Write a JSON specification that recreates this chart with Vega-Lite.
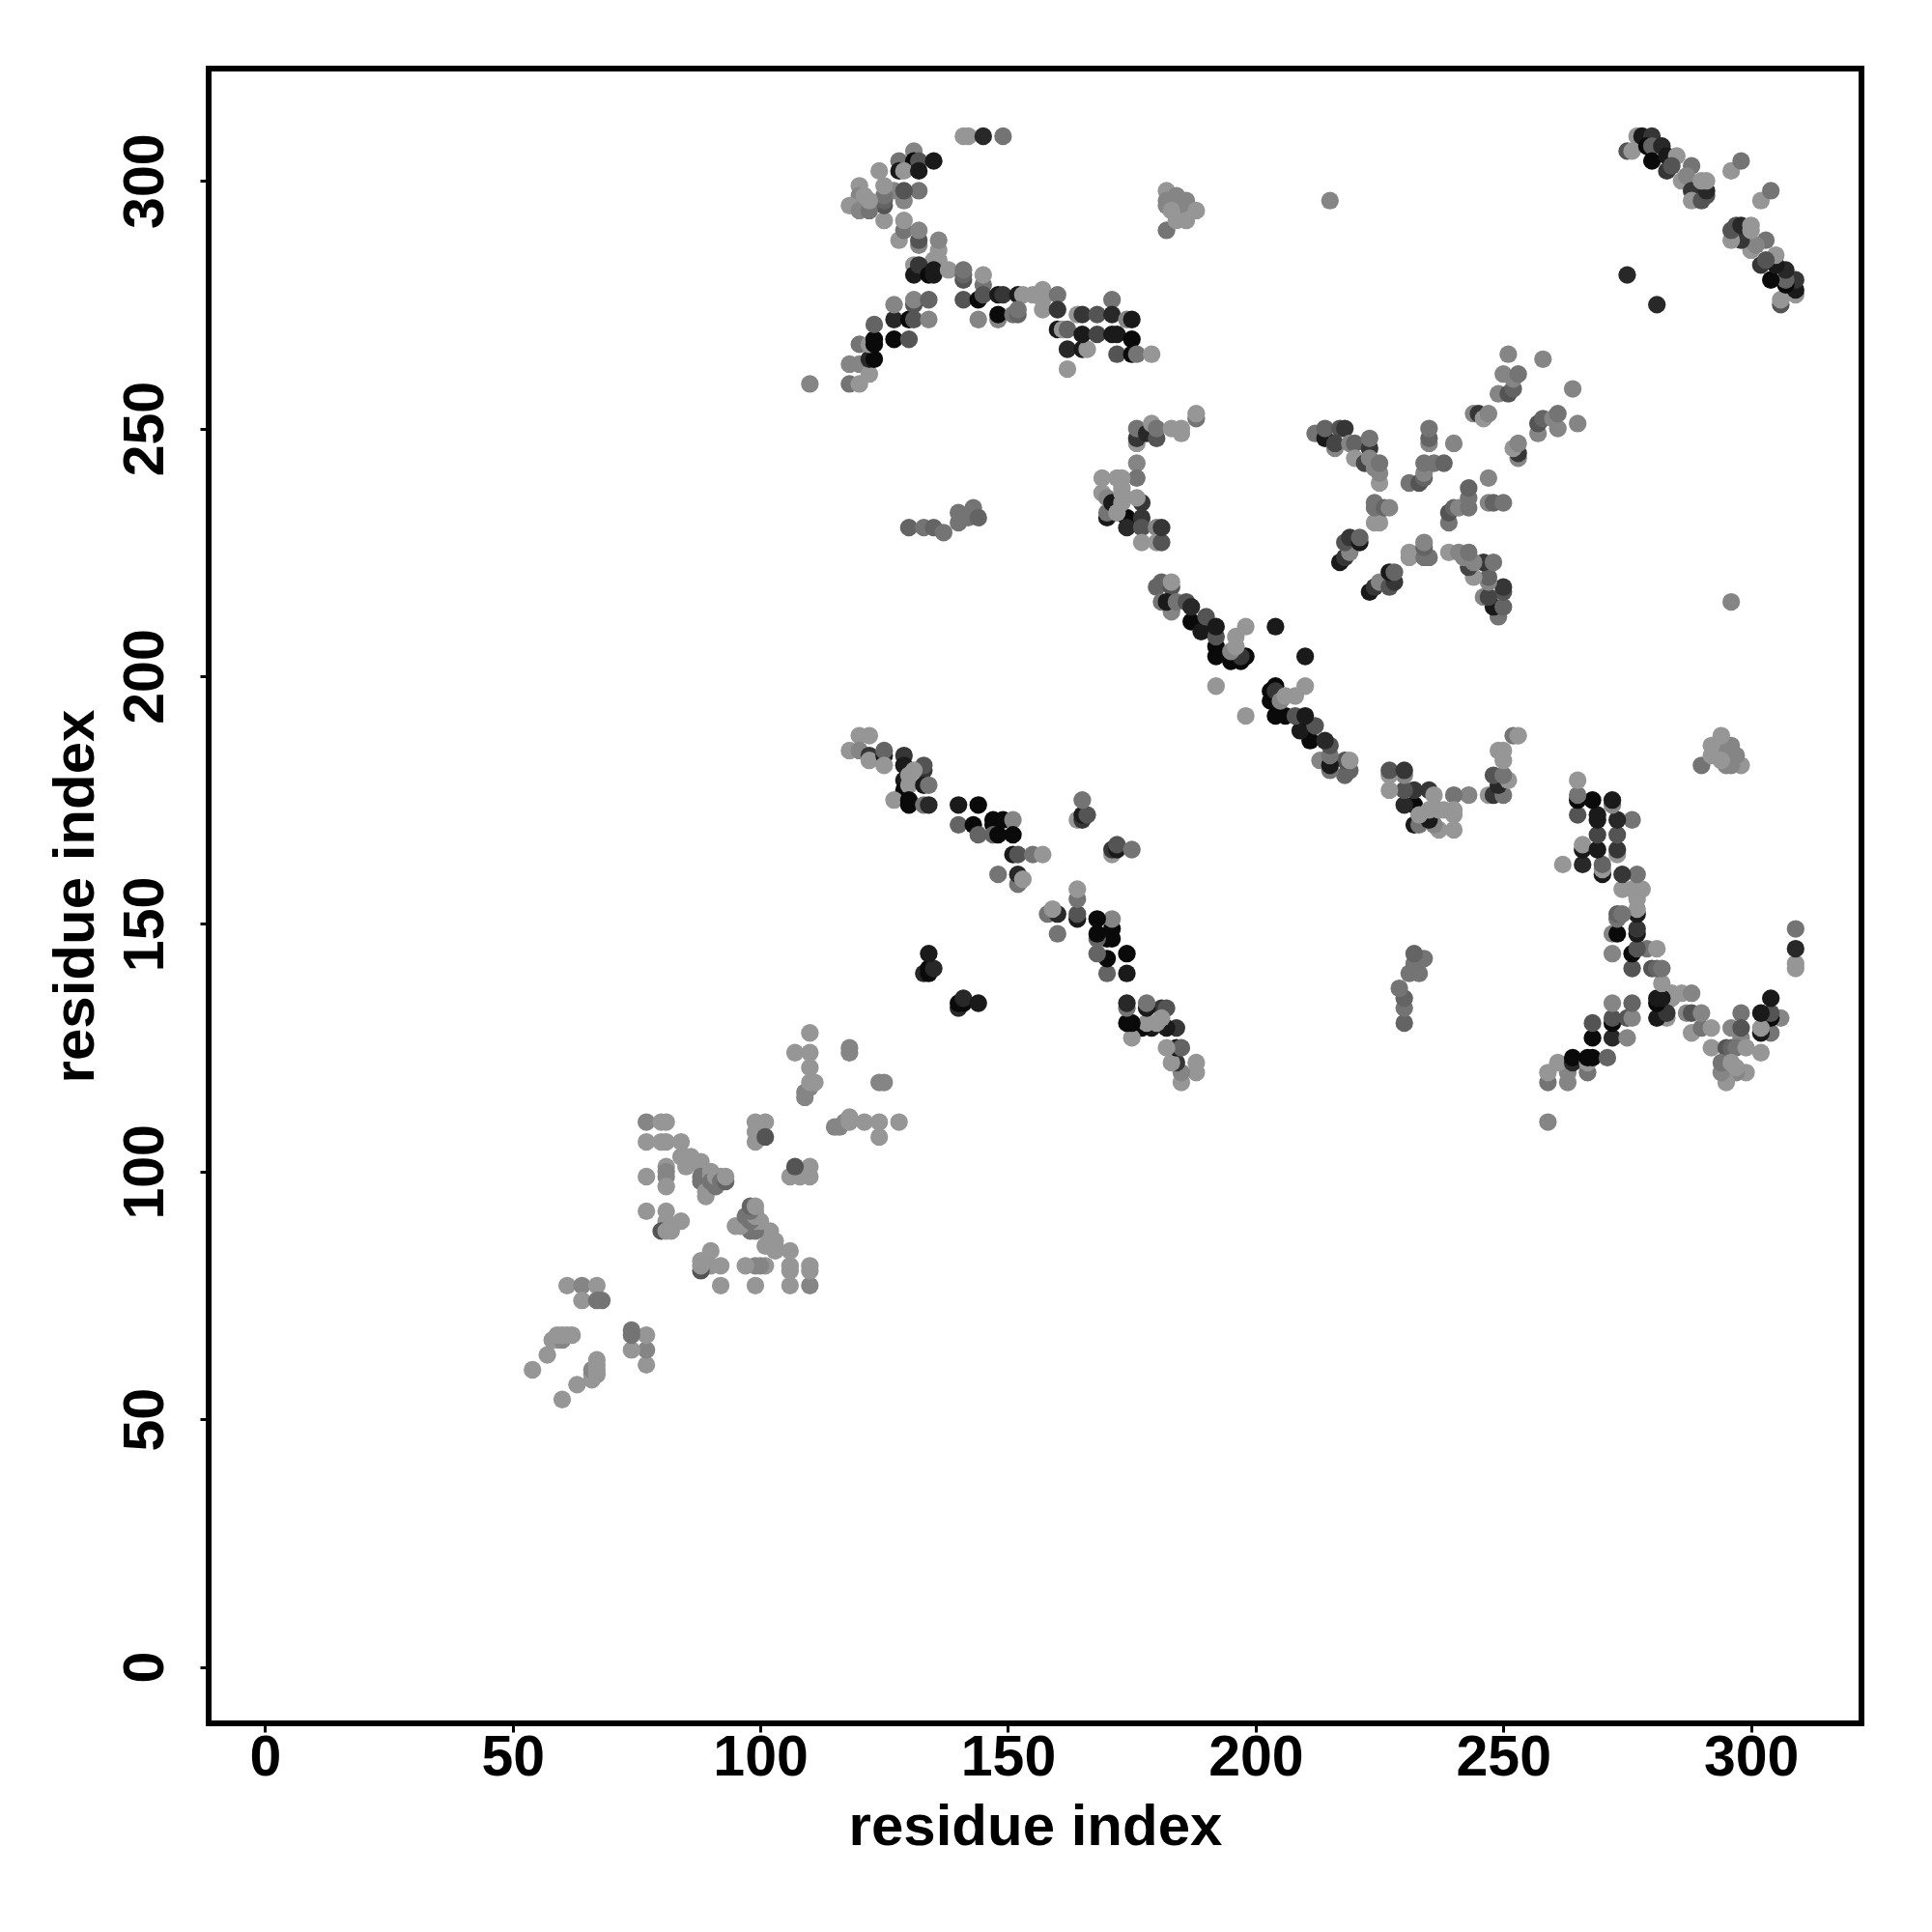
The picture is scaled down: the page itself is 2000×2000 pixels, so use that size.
{"$schema":"https://vega.github.io/schema/vega-lite/v6.json","width":1711,"height":1713,"autosize":"none","padding":{"left":216,"top":71,"right":73,"bottom":216},"background":"white","config":{"view":{"stroke":"black","strokeWidth":6,"fill":"white"}},"data":{"values":[
{"x":54,"y":60,"s":9},{"x":57,"y":63,"s":9},{"x":58,"y":66,"s":9},{"x":59,"y":66,"s":9},{"x":60,"y":66,"s":8},{"x":59,"y":67,"s":9},{"x":60,"y":67,"s":9},{"x":61,"y":67,"s":9},{"x":62,"y":67,"s":9},{"x":61,"y":77,"s":9},{"x":64,"y":77,"s":8},{"x":67,"y":77,"s":9},{"x":64,"y":74,"s":9},{"x":67,"y":74,"s":7},{"x":68,"y":74,"s":7},
{"x":77,"y":110,"s":8},{"x":80,"y":110,"s":9},{"x":81,"y":110,"s":9},{"x":77,"y":106,"s":9},{"x":80,"y":106,"s":9},{"x":81,"y":106,"s":9},{"x":84,"y":106,"s":9},{"x":81,"y":101,"s":9},{"x":81,"y":100,"s":8},{"x":81,"y":99,"s":8},{"x":77,"y":99,"s":9},{"x":81,"y":97,"s":9},{"x":77,"y":92,"s":9},{"x":81,"y":92,"s":9},{"x":81,"y":90,"s":9},{"x":84,"y":90,"s":9},{"x":80,"y":88,"s":5},{"x":81,"y":88,"s":9},{"x":82,"y":88,"s":9},{"x":84,"y":103,"s":9},{"x":85,"y":103,"s":9},{"x":86,"y":103,"s":9},{"x":85,"y":101,"s":9},{"x":86,"y":102,"s":9},{"x":88,"y":102,"s":9},{"x":88,"y":101,"s":9},{"x":88,"y":99,"s":7},{"x":88,"y":98,"s":7},{"x":89,"y":97,"s":7},{"x":89,"y":96,"s":9},{"x":89,"y":95,"s":9},{"x":90,"y":100,"s":9},{"x":90,"y":99,"s":9},{"x":90,"y":98,"s":7},{"x":91,"y":97,"s":7},{"x":91,"y":99,"s":9},{"x":92,"y":99,"s":9},{"x":92,"y":98,"s":7},{"x":93,"y":98,"s":6},{"x":93,"y":99,"s":9},{"x":99,"y":110,"s":9},{"x":101,"y":110,"s":9},{"x":99,"y":108,"s":9},{"x":99,"y":106,"s":9},{"x":101,"y":107,"s":5},{"x":107,"y":124,"s":9},{"x":110,"y":124,"s":9},{"x":110,"y":128,"s":9},{"x":110,"y":121,"s":9},{"x":109,"y":115,"s":8},{"x":109,"y":116,"s":8},{"x":110,"y":117,"s":8},{"x":110,"y":118,"s":9},{"x":111,"y":118,"s":9},{"x":118,"y":124,"s":8},{"x":118,"y":125,"s":8},{"x":124,"y":118,"s":8},{"x":125,"y":118,"s":8},
{"x":120,"y":188,"s":9},{"x":122,"y":188,"s":9},{"x":118,"y":185,"s":9},{"x":120,"y":185,"s":8},{"x":122,"y":184,"s":3},{"x":122,"y":183,"s":9},{"x":125,"y":184,"s":1},{"x":125,"y":185,"s":6},{"x":125,"y":182,"s":9},{"x":129,"y":184,"s":3},{"x":129,"y":182,"s":1},{"x":133,"y":181,"s":3},{"x":133,"y":182,"s":5},{"x":129,"y":179,"s":1},{"x":129,"y":177,"s":0},{"x":130,"y":180,"s":9},{"x":131,"y":181,"s":9},{"x":130,"y":178,"s":9},{"x":133,"y":178,"s":1},{"x":134,"y":178,"s":7},{"x":127,"y":175,"s":9},{"x":130,"y":175,"s":0},{"x":130,"y":174,"s":0},{"x":133,"y":174,"s":7},{"x":134,"y":174,"s":2},
{"x":140,"y":174,"s":1},{"x":144,"y":174,"s":0},{"x":140,"y":170,"s":6},{"x":143,"y":170,"s":0},{"x":144,"y":168,"s":6},{"x":147,"y":171,"s":0},{"x":147,"y":170,"s":0},{"x":149,"y":171,"s":0},{"x":147,"y":168,"s":6},{"x":148,"y":168,"s":0},{"x":151,"y":171,"s":8},{"x":151,"y":168,"s":0},{"x":151,"y":164,"s":1},{"x":152,"y":164,"s":5},{"x":155,"y":164,"s":7},{"x":157,"y":164,"s":9},{"x":148,"y":160,"s":7},{"x":152,"y":158,"s":7},{"x":152,"y":160,"s":2},{"x":153,"y":159,"s":9},{"x":164,"y":171,"s":9},{"x":165,"y":171,"s":3},{"x":165,"y":172,"s":1},{"x":166,"y":172,"s":5},{"x":165,"y":175,"s":7},{"x":133,"y":140,"s":2},{"x":134,"y":140,"s":0},{"x":134,"y":141,"s":0},{"x":135,"y":141,"s":2},{"x":134,"y":144,"s":1},
{"x":110,"y":259,"s":8},{"x":118,"y":259,"s":7},{"x":120,"y":259,"s":9},{"x":118,"y":263,"s":8},{"x":120,"y":263,"s":8},{"x":120,"y":267,"s":7},{"x":122,"y":261,"s":9},{"x":122,"y":264,"s":2},{"x":123,"y":264,"s":0},{"x":122,"y":267,"s":9},{"x":123,"y":267,"s":0},{"x":123,"y":268,"s":0},{"x":123,"y":271,"s":6},{"x":127,"y":268,"s":0},{"x":130,"y":268,"s":5},{"x":127,"y":272,"s":2},{"x":130,"y":272,"s":0},{"x":131,"y":272,"s":5},{"x":134,"y":272,"s":8},{"x":127,"y":275,"s":8},{"x":131,"y":275,"s":5},{"x":131,"y":276,"s":8},{"x":134,"y":276,"s":6},
{"x":131,"y":306,"s":8},{"x":128,"y":304,"s":7},{"x":131,"y":304,"s":0},{"x":132,"y":304,"s":5},{"x":135,"y":304,"s":1},{"x":128,"y":302,"s":1},{"x":129,"y":302,"s":9},{"x":132,"y":302,"s":1},{"x":124,"y":302,"s":9},{"x":127,"y":298,"s":8},{"x":132,"y":298,"s":7},{"x":129,"y":296,"s":8},{"x":129,"y":298,"s":5},{"x":120,"y":299,"s":9},{"x":120,"y":297,"s":8},{"x":125,"y":292,"s":9},{"x":125,"y":295,"s":5},{"x":125,"y":296,"s":6},{"x":125,"y":297,"s":7},{"x":125,"y":299,"s":9},{"x":118,"y":295,"s":9},{"x":120,"y":294,"s":8},{"x":122,"y":294,"s":7},{"x":122,"y":296,"s":9},{"x":121,"y":297,"s":9},
{"x":128,"y":288,"s":9},{"x":129,"y":290,"s":7},{"x":129,"y":292,"s":9},{"x":132,"y":287,"s":8},{"x":132,"y":288,"s":5},{"x":132,"y":290,"s":8},{"x":136,"y":284,"s":9},{"x":136,"y":286,"s":9},{"x":136,"y":288,"s":8},{"x":135,"y":284,"s":9},{"x":131,"y":283,"s":9},{"x":131,"y":281,"s":1},{"x":132,"y":283,"s":3},{"x":134,"y":281,"s":0},{"x":135,"y":281,"s":1},{"x":135,"y":282,"s":1},{"x":138,"y":282,"s":9},{"x":141,"y":280,"s":5},{"x":141,"y":281,"s":6},{"x":141,"y":282,"s":7},{"x":145,"y":279,"s":7},{"x":145,"y":281,"s":9},
{"x":141,"y":276,"s":5},{"x":144,"y":276,"s":0},{"x":145,"y":277,"s":5},{"x":148,"y":277,"s":1},{"x":149,"y":277,"s":3},{"x":152,"y":277,"s":1},{"x":153,"y":277,"s":9},{"x":155,"y":277,"s":9},{"x":157,"y":278,"s":9},{"x":157,"y":276,"s":9},{"x":157,"y":274,"s":9},{"x":160,"y":277,"s":7},{"x":160,"y":274,"s":3},{"x":144,"y":272,"s":8},{"x":148,"y":272,"s":8},{"x":148,"y":273,"s":0},{"x":151,"y":273,"s":7},{"x":152,"y":273,"s":6},{"x":152,"y":274,"s":7},{"x":162,"y":266,"s":2},{"x":165,"y":266,"s":1},{"x":166,"y":266,"s":9},{"x":162,"y":262,"s":9},{"x":160,"y":270,"s":1},{"x":161,"y":270,"s":9},{"x":162,"y":270,"s":6},{"x":164,"y":273,"s":9},{"x":165,"y":273,"s":3},{"x":168,"y":273,"s":5},{"x":171,"y":276,"s":7},{"x":171,"y":273,"s":2},{"x":165,"y":269,"s":1},{"x":168,"y":269,"s":4},{"x":171,"y":269,"s":1},{"x":172,"y":269,"s":1},{"x":174,"y":272,"s":8},{"x":175,"y":272,"s":1},{"x":175,"y":268,"s":0},{"x":172,"y":265,"s":5},{"x":175,"y":265,"s":0},{"x":176,"y":265,"s":7},{"x":179,"y":265,"s":9},
{"x":141,"y":309,"s":9},{"x":142,"y":309,"s":9},{"x":145,"y":309,"s":2},{"x":149,"y":309,"s":7},
{"x":182,"y":298,"s":9},{"x":182,"y":290,"s":7},{"x":182,"y":296,"s":8},{"x":182,"y":295,"s":8},{"x":184,"y":297,"s":8},{"x":186,"y":296,"s":8},{"x":185,"y":295,"s":8},{"x":183,"y":294,"s":9},{"x":184,"y":292,"s":9},{"x":186,"y":292,"s":9},{"x":188,"y":294,"s":9},
{"x":188,"y":252,"s":7},{"x":188,"y":253,"s":9},{"x":176,"y":247,"s":9},{"x":176,"y":248,"s":3},{"x":176,"y":250,"s":7},{"x":178,"y":249,"s":2},{"x":179,"y":251,"s":9},{"x":180,"y":248,"s":5},{"x":180,"y":250,"s":7},{"x":183,"y":250,"s":9},{"x":185,"y":249,"s":9},{"x":185,"y":250,"s":9},{"x":176,"y":243,"s":8},{"x":176,"y":240,"s":7},{"x":169,"y":240,"s":9},{"x":172,"y":240,"s":9},{"x":173,"y":240,"s":9},{"x":170,"y":232,"s":1},{"x":170,"y":233,"s":7},{"x":169,"y":237,"s":9},{"x":170,"y":236,"s":8},{"x":171,"y":235,"s":1},{"x":174,"y":232,"s":0},{"x":172,"y":233,"s":9},{"x":173,"y":238,"s":9},{"x":173,"y":237,"s":9},{"x":173,"y":235,"s":9},{"x":177,"y":232,"s":3},{"x":177,"y":235,"s":3},{"x":176,"y":236,"s":9},{"x":174,"y":230,"s":2},{"x":177,"y":230,"s":5},{"x":180,"y":230,"s":8},{"x":177,"y":227,"s":9},{"x":180,"y":227,"s":9},{"x":181,"y":227,"s":5},{"x":181,"y":230,"s":3},
{"x":180,"y":218,"s":6},{"x":181,"y":219,"s":6},{"x":183,"y":218,"s":5},{"x":183,"y":219,"s":9},{"x":181,"y":215,"s":7},{"x":183,"y":213,"s":8},{"x":182,"y":215,"s":1},{"x":184,"y":215,"s":7},{"x":186,"y":215,"s":5},{"x":187,"y":211,"s":0},{"x":187,"y":214,"s":2},{"x":189,"y":209,"s":1},{"x":190,"y":212,"s":5},{"x":192,"y":204,"s":0},{"x":192,"y":206,"s":0},{"x":192,"y":208,"s":5},{"x":192,"y":210,"s":1},{"x":195,"y":203,"s":0},{"x":197,"y":203,"s":0},{"x":198,"y":204,"s":0},{"x":197,"y":204,"s":3},{"x":195,"y":205,"s":8},{"x":196,"y":206,"s":9},{"x":196,"y":208,"s":9},{"x":198,"y":210,"s":9},{"x":204,"y":210,"s":1},{"x":192,"y":198,"s":9},
{"x":212,"y":249,"s":7},{"x":214,"y":248,"s":1},{"x":214,"y":250,"s":6},{"x":217,"y":250,"s":5},{"x":218,"y":250,"s":3},{"x":216,"y":246,"s":8},{"x":216,"y":247,"s":4},{"x":219,"y":247,"s":8},{"x":220,"y":247,"s":6},{"x":223,"y":246,"s":3},{"x":223,"y":248,"s":7},{"x":220,"y":244,"s":9},{"x":222,"y":243,"s":4},{"x":223,"y":244,"s":8},{"x":224,"y":242,"s":8},{"x":225,"y":239,"s":9},{"x":225,"y":241,"s":8},{"x":225,"y":243,"s":7},{"x":224,"y":231,"s":9},{"x":225,"y":231,"s":9},{"x":224,"y":234,"s":7},{"x":224,"y":235,"s":7},{"x":226,"y":234,"s":6},{"x":227,"y":234,"s":8},{"x":217,"y":223,"s":1},{"x":218,"y":224,"s":3},{"x":219,"y":225,"s":8},{"x":218,"y":227,"s":5},{"x":219,"y":228,"s":3},{"x":221,"y":227,"s":1},{"x":221,"y":228,"s":6},
{"x":235,"y":247,"s":8},{"x":235,"y":248,"s":6},{"x":235,"y":250,"s":7},{"x":240,"y":247,"s":8},{"x":231,"y":239,"s":7},{"x":233,"y":239,"s":5},{"x":234,"y":240,"s":6},{"x":234,"y":241,"s":8},{"x":234,"y":243,"s":7},{"x":236,"y":243,"s":7},{"x":238,"y":243,"s":6},{"x":244,"y":253,"s":8},{"x":245,"y":253,"s":3},{"x":246,"y":252,"s":9},{"x":247,"y":253,"s":8},{"x":249,"y":257,"s":8},{"x":251,"y":257,"s":5},{"x":252,"y":258,"s":6},{"x":252,"y":260,"s":8},{"x":250,"y":261,"s":8},{"x":253,"y":261,"s":7},{"x":251,"y":265,"s":8},{"x":258,"y":264,"s":8},
{"x":130,"y":230,"s":6},{"x":133,"y":230,"s":7},{"x":135,"y":230,"s":6},{"x":137,"y":229,"s":7},{"x":140,"y":231,"s":7},{"x":140,"y":233,"s":7},{"x":142,"y":232,"s":7},{"x":143,"y":234,"s":7},{"x":144,"y":232,"s":6},{"x":215,"y":296,"s":8},
{"x":275,"y":306,"s":5},{"x":276,"y":306,"s":9},{"x":277,"y":309,"s":9},{"x":278,"y":309,"s":1},{"x":280,"y":309,"s":3},{"x":279,"y":307,"s":0},{"x":280,"y":307,"s":6},{"x":282,"y":307,"s":2},{"x":280,"y":304,"s":0},{"x":283,"y":305,"s":1},{"x":283,"y":302,"s":3},{"x":285,"y":305,"s":9},{"x":284,"y":303,"s":5},{"x":286,"y":300,"s":9},{"x":288,"y":303,"s":7},{"x":287,"y":301,"s":8},{"x":288,"y":298,"s":3},{"x":288,"y":296,"s":9},{"x":290,"y":296,"s":5},{"x":291,"y":297,"s":5},{"x":291,"y":298,"s":2},{"x":290,"y":300,"s":9},{"x":291,"y":300,"s":9},{"x":296,"y":302,"s":9},{"x":298,"y":304,"s":7},{"x":275,"y":281,"s":2},
{"x":60,"y":54,"s":9},{"x":63,"y":57,"s":9},{"x":66,"y":58,"s":9},{"x":66,"y":59,"s":9},{"x":66,"y":60,"s":8},{"x":67,"y":59,"s":9},{"x":67,"y":60,"s":9},{"x":67,"y":61,"s":9},{"x":67,"y":62,"s":9},{"x":77,"y":61,"s":9},{"x":77,"y":64,"s":8},{"x":77,"y":67,"s":9},{"x":74,"y":64,"s":9},{"x":74,"y":67,"s":7},{"x":74,"y":68,"s":7},
{"x":110,"y":77,"s":8},{"x":110,"y":80,"s":9},{"x":110,"y":81,"s":9},{"x":106,"y":77,"s":9},{"x":106,"y":80,"s":9},{"x":106,"y":81,"s":9},{"x":106,"y":84,"s":9},{"x":101,"y":81,"s":9},{"x":100,"y":81,"s":8},{"x":99,"y":81,"s":8},{"x":99,"y":77,"s":9},{"x":97,"y":81,"s":9},{"x":92,"y":77,"s":9},{"x":92,"y":81,"s":9},{"x":90,"y":81,"s":9},{"x":90,"y":84,"s":9},{"x":88,"y":80,"s":5},{"x":88,"y":81,"s":9},{"x":88,"y":82,"s":9},{"x":103,"y":84,"s":9},{"x":103,"y":85,"s":9},{"x":103,"y":86,"s":9},{"x":101,"y":85,"s":9},{"x":102,"y":86,"s":9},{"x":102,"y":88,"s":9},{"x":101,"y":88,"s":9},{"x":99,"y":88,"s":7},{"x":98,"y":88,"s":7},{"x":97,"y":89,"s":7},{"x":96,"y":89,"s":9},{"x":95,"y":89,"s":9},{"x":100,"y":90,"s":9},{"x":99,"y":90,"s":9},{"x":98,"y":90,"s":7},{"x":97,"y":91,"s":7},{"x":99,"y":91,"s":9},{"x":99,"y":92,"s":9},{"x":98,"y":92,"s":7},{"x":98,"y":93,"s":6},{"x":99,"y":93,"s":9},{"x":110,"y":99,"s":9},{"x":110,"y":101,"s":9},{"x":108,"y":99,"s":9},{"x":106,"y":99,"s":9},{"x":107,"y":101,"s":5},{"x":124,"y":107,"s":9},{"x":124,"y":110,"s":9},{"x":128,"y":110,"s":9},{"x":121,"y":110,"s":9},{"x":115,"y":109,"s":8},{"x":116,"y":109,"s":8},{"x":117,"y":110,"s":8},{"x":118,"y":110,"s":9},{"x":118,"y":111,"s":9},
{"x":188,"y":120,"s":9},{"x":188,"y":122,"s":9},{"x":185,"y":118,"s":9},{"x":185,"y":120,"s":8},{"x":184,"y":122,"s":3},{"x":183,"y":122,"s":9},{"x":184,"y":125,"s":1},{"x":185,"y":125,"s":6},{"x":182,"y":125,"s":9},{"x":184,"y":129,"s":3},{"x":182,"y":129,"s":1},{"x":181,"y":133,"s":3},{"x":182,"y":133,"s":5},{"x":179,"y":129,"s":1},{"x":177,"y":129,"s":0},{"x":180,"y":130,"s":9},{"x":181,"y":131,"s":9},{"x":178,"y":130,"s":9},{"x":178,"y":133,"s":1},{"x":178,"y":134,"s":7},{"x":175,"y":127,"s":9},{"x":175,"y":130,"s":0},{"x":174,"y":130,"s":0},{"x":174,"y":133,"s":7},{"x":174,"y":134,"s":2},
{"x":174,"y":140,"s":1},{"x":174,"y":144,"s":0},{"x":170,"y":140,"s":6},{"x":170,"y":143,"s":0},{"x":168,"y":144,"s":6},{"x":171,"y":147,"s":0},{"x":170,"y":147,"s":0},{"x":171,"y":149,"s":0},{"x":168,"y":147,"s":6},{"x":168,"y":148,"s":0},{"x":171,"y":151,"s":8},{"x":168,"y":151,"s":0},{"x":164,"y":151,"s":1},{"x":164,"y":152,"s":5},{"x":164,"y":155,"s":7},{"x":164,"y":157,"s":9},{"x":160,"y":148,"s":7},{"x":158,"y":152,"s":7},{"x":160,"y":152,"s":2},{"x":159,"y":153,"s":9},{"x":171,"y":164,"s":9},{"x":171,"y":165,"s":3},{"x":172,"y":165,"s":1},{"x":172,"y":166,"s":5},{"x":175,"y":165,"s":7},{"x":140,"y":133,"s":2},{"x":140,"y":134,"s":0},{"x":141,"y":134,"s":0},{"x":141,"y":135,"s":2},{"x":144,"y":134,"s":1},
{"x":259,"y":110,"s":8},{"x":259,"y":118,"s":7},{"x":259,"y":120,"s":9},{"x":263,"y":118,"s":8},{"x":263,"y":120,"s":8},{"x":267,"y":120,"s":7},{"x":261,"y":122,"s":9},{"x":264,"y":122,"s":2},{"x":264,"y":123,"s":0},{"x":267,"y":122,"s":9},{"x":267,"y":123,"s":0},{"x":268,"y":123,"s":0},{"x":271,"y":123,"s":6},{"x":268,"y":127,"s":0},{"x":268,"y":130,"s":5},{"x":272,"y":127,"s":2},{"x":272,"y":130,"s":0},{"x":272,"y":131,"s":5},{"x":272,"y":134,"s":8},{"x":275,"y":127,"s":8},{"x":275,"y":131,"s":5},{"x":276,"y":131,"s":8},{"x":276,"y":134,"s":6},
{"x":306,"y":131,"s":8},{"x":304,"y":128,"s":7},{"x":304,"y":131,"s":0},{"x":304,"y":132,"s":5},{"x":304,"y":135,"s":1},{"x":302,"y":128,"s":1},{"x":302,"y":129,"s":9},{"x":302,"y":132,"s":1},{"x":302,"y":124,"s":9},{"x":298,"y":127,"s":8},{"x":298,"y":132,"s":7},{"x":296,"y":129,"s":8},{"x":298,"y":129,"s":5},{"x":299,"y":120,"s":9},{"x":297,"y":120,"s":8},{"x":292,"y":125,"s":9},{"x":295,"y":125,"s":5},{"x":296,"y":125,"s":6},{"x":297,"y":125,"s":7},{"x":299,"y":125,"s":9},{"x":295,"y":118,"s":9},{"x":294,"y":120,"s":8},{"x":294,"y":122,"s":7},{"x":296,"y":122,"s":9},{"x":297,"y":121,"s":9},
{"x":288,"y":128,"s":9},{"x":290,"y":129,"s":7},{"x":292,"y":129,"s":9},{"x":287,"y":132,"s":8},{"x":288,"y":132,"s":5},{"x":290,"y":132,"s":8},{"x":284,"y":136,"s":9},{"x":286,"y":136,"s":9},{"x":288,"y":136,"s":8},{"x":284,"y":135,"s":9},{"x":283,"y":131,"s":9},{"x":281,"y":131,"s":1},{"x":283,"y":132,"s":3},{"x":281,"y":134,"s":0},{"x":281,"y":135,"s":1},{"x":282,"y":135,"s":1},{"x":282,"y":138,"s":9},{"x":280,"y":141,"s":5},{"x":281,"y":141,"s":6},{"x":282,"y":141,"s":7},{"x":279,"y":145,"s":7},{"x":281,"y":145,"s":9},
{"x":276,"y":141,"s":5},{"x":276,"y":144,"s":0},{"x":277,"y":145,"s":5},{"x":277,"y":148,"s":1},{"x":277,"y":149,"s":3},{"x":277,"y":152,"s":1},{"x":277,"y":153,"s":9},{"x":277,"y":155,"s":9},{"x":278,"y":157,"s":9},{"x":276,"y":157,"s":9},{"x":274,"y":157,"s":9},{"x":277,"y":160,"s":7},{"x":274,"y":160,"s":3},{"x":272,"y":144,"s":8},{"x":272,"y":148,"s":8},{"x":273,"y":148,"s":0},{"x":273,"y":151,"s":7},{"x":273,"y":152,"s":6},{"x":274,"y":152,"s":7},{"x":266,"y":162,"s":2},{"x":266,"y":165,"s":1},{"x":266,"y":166,"s":9},{"x":262,"y":162,"s":9},{"x":270,"y":160,"s":1},{"x":270,"y":161,"s":9},{"x":270,"y":162,"s":6},{"x":273,"y":164,"s":9},{"x":273,"y":165,"s":3},{"x":273,"y":168,"s":5},{"x":276,"y":171,"s":7},{"x":273,"y":171,"s":2},{"x":269,"y":165,"s":1},{"x":269,"y":168,"s":4},{"x":269,"y":171,"s":1},{"x":269,"y":172,"s":1},{"x":272,"y":174,"s":8},{"x":272,"y":175,"s":1},{"x":268,"y":175,"s":0},{"x":265,"y":172,"s":5},{"x":265,"y":175,"s":0},{"x":265,"y":176,"s":7},{"x":265,"y":179,"s":9},
{"x":309,"y":141,"s":9},{"x":309,"y":142,"s":9},{"x":309,"y":145,"s":2},{"x":309,"y":149,"s":7},
{"x":298,"y":182,"s":9},{"x":290,"y":182,"s":7},{"x":296,"y":182,"s":8},{"x":295,"y":182,"s":8},{"x":297,"y":184,"s":8},{"x":296,"y":186,"s":8},{"x":295,"y":185,"s":8},{"x":294,"y":183,"s":9},{"x":292,"y":184,"s":9},{"x":292,"y":186,"s":9},{"x":294,"y":188,"s":9},
{"x":252,"y":188,"s":7},{"x":253,"y":188,"s":9},{"x":247,"y":176,"s":9},{"x":248,"y":176,"s":3},{"x":250,"y":176,"s":7},{"x":249,"y":178,"s":2},{"x":251,"y":179,"s":9},{"x":248,"y":180,"s":5},{"x":250,"y":180,"s":7},{"x":250,"y":183,"s":9},{"x":249,"y":185,"s":9},{"x":250,"y":185,"s":9},{"x":243,"y":176,"s":8},{"x":240,"y":176,"s":7},{"x":240,"y":169,"s":9},{"x":240,"y":172,"s":9},{"x":240,"y":173,"s":9},{"x":232,"y":170,"s":1},{"x":233,"y":170,"s":7},{"x":237,"y":169,"s":9},{"x":236,"y":170,"s":8},{"x":235,"y":171,"s":1},{"x":232,"y":174,"s":0},{"x":233,"y":172,"s":9},{"x":238,"y":173,"s":9},{"x":237,"y":173,"s":9},{"x":235,"y":173,"s":9},{"x":232,"y":177,"s":3},{"x":235,"y":177,"s":3},{"x":236,"y":176,"s":9},{"x":230,"y":174,"s":2},{"x":230,"y":177,"s":5},{"x":230,"y":180,"s":8},{"x":227,"y":177,"s":9},{"x":227,"y":180,"s":9},{"x":227,"y":181,"s":5},{"x":230,"y":181,"s":3},
{"x":218,"y":180,"s":6},{"x":219,"y":181,"s":6},{"x":218,"y":183,"s":5},{"x":219,"y":183,"s":9},{"x":215,"y":181,"s":7},{"x":213,"y":183,"s":8},{"x":215,"y":182,"s":1},{"x":215,"y":184,"s":7},{"x":215,"y":186,"s":5},{"x":211,"y":187,"s":0},{"x":214,"y":187,"s":2},{"x":209,"y":189,"s":1},{"x":212,"y":190,"s":5},{"x":204,"y":192,"s":0},{"x":206,"y":192,"s":0},{"x":208,"y":192,"s":5},{"x":210,"y":192,"s":1},{"x":203,"y":195,"s":0},{"x":203,"y":197,"s":0},{"x":204,"y":198,"s":0},{"x":204,"y":197,"s":3},{"x":205,"y":195,"s":8},{"x":206,"y":196,"s":9},{"x":208,"y":196,"s":9},{"x":210,"y":198,"s":9},{"x":210,"y":204,"s":1},{"x":198,"y":192,"s":9},
{"x":249,"y":212,"s":7},{"x":248,"y":214,"s":1},{"x":250,"y":214,"s":6},{"x":250,"y":217,"s":5},{"x":250,"y":218,"s":3},{"x":246,"y":216,"s":8},{"x":247,"y":216,"s":4},{"x":247,"y":219,"s":8},{"x":247,"y":220,"s":6},{"x":246,"y":223,"s":3},{"x":248,"y":223,"s":7},{"x":244,"y":220,"s":9},{"x":243,"y":222,"s":4},{"x":244,"y":223,"s":8},{"x":242,"y":224,"s":8},{"x":239,"y":225,"s":9},{"x":241,"y":225,"s":8},{"x":243,"y":225,"s":7},{"x":231,"y":224,"s":9},{"x":231,"y":225,"s":9},{"x":234,"y":224,"s":7},{"x":235,"y":224,"s":7},{"x":234,"y":226,"s":6},{"x":234,"y":227,"s":8},{"x":223,"y":217,"s":1},{"x":224,"y":218,"s":3},{"x":225,"y":219,"s":8},{"x":227,"y":218,"s":5},{"x":228,"y":219,"s":3},{"x":227,"y":221,"s":1},{"x":228,"y":221,"s":6},
{"x":247,"y":235,"s":8},{"x":248,"y":235,"s":6},{"x":250,"y":235,"s":7},{"x":247,"y":240,"s":8},{"x":239,"y":231,"s":7},{"x":239,"y":233,"s":5},{"x":240,"y":234,"s":6},{"x":241,"y":234,"s":8},{"x":243,"y":234,"s":7},{"x":243,"y":236,"s":7},{"x":243,"y":238,"s":6},{"x":253,"y":244,"s":8},{"x":253,"y":245,"s":3},{"x":252,"y":246,"s":9},{"x":253,"y":247,"s":8},{"x":257,"y":249,"s":8},{"x":257,"y":251,"s":5},{"x":258,"y":252,"s":6},{"x":260,"y":252,"s":8},{"x":261,"y":250,"s":8},{"x":261,"y":253,"s":7},{"x":265,"y":251,"s":8},{"x":264,"y":258,"s":8},
{"x":230,"y":130,"s":6},{"x":230,"y":133,"s":7},{"x":230,"y":135,"s":6},{"x":229,"y":137,"s":7},{"x":231,"y":140,"s":7},{"x":233,"y":140,"s":7},{"x":232,"y":142,"s":7},{"x":234,"y":143,"s":7},{"x":232,"y":144,"s":6},{"x":296,"y":215,"s":8},
{"x":306,"y":275,"s":5},{"x":306,"y":276,"s":9},{"x":309,"y":277,"s":9},{"x":309,"y":278,"s":1},{"x":309,"y":280,"s":3},{"x":307,"y":279,"s":0},{"x":307,"y":280,"s":6},{"x":307,"y":282,"s":2},{"x":304,"y":280,"s":0},{"x":305,"y":283,"s":1},{"x":302,"y":283,"s":3},{"x":305,"y":285,"s":9},{"x":303,"y":284,"s":5},{"x":300,"y":286,"s":9},{"x":303,"y":288,"s":7},{"x":301,"y":287,"s":8},{"x":298,"y":288,"s":3},{"x":296,"y":288,"s":9},{"x":296,"y":290,"s":5},{"x":297,"y":291,"s":5},{"x":298,"y":291,"s":2},{"x":300,"y":290,"s":9},{"x":300,"y":291,"s":9},{"x":302,"y":296,"s":9},{"x":304,"y":298,"s":7},{"x":281,"y":275,"s":2}
]},"mark":{"type":"circle","size":335,"opacity":1},"encoding":{"x":{"field":"x","type":"quantitative","scale":{"domain":[-11.37,322.3],"nice":false,"zero":false},"axis":{"values":[0,50,100,150,200,250,300],"grid":false,"domain":false,"tickColor":"black","tickWidth":3,"tickSize":9,"labelFont":"Liberation Sans","labelFontWeight":"bold","labelFontSize":59,"labelColor":"black","labelPadding":-3,"title":"residue index","titleFont":"Liberation Sans","titleFontWeight":"bold","titleFontSize":60,"titleColor":"black","titlePadding":13}},"y":{"field":"y","type":"quantitative","scale":{"domain":[-11.37,322.65],"nice":false,"zero":false},"axis":{"values":[0,50,100,150,200,250,300],"grid":false,"domain":false,"tickColor":"black","tickWidth":3,"tickSize":9,"labelFont":"Liberation Sans","labelFontWeight":"bold","labelFontSize":59,"labelColor":"black","labelAngle":270,"labelAlign":"center","labelBaseline":"bottom","labelPadding":27,"title":"residue index","titleFont":"Liberation Sans","titleFontWeight":"bold","titleFontSize":60,"titleColor":"black","titlePadding":12}},"color":{"field":"s","type":"quantitative","scale":{"domain":[0,9],"range":["#0a0a0a","#969696"]},"legend":null}}}
